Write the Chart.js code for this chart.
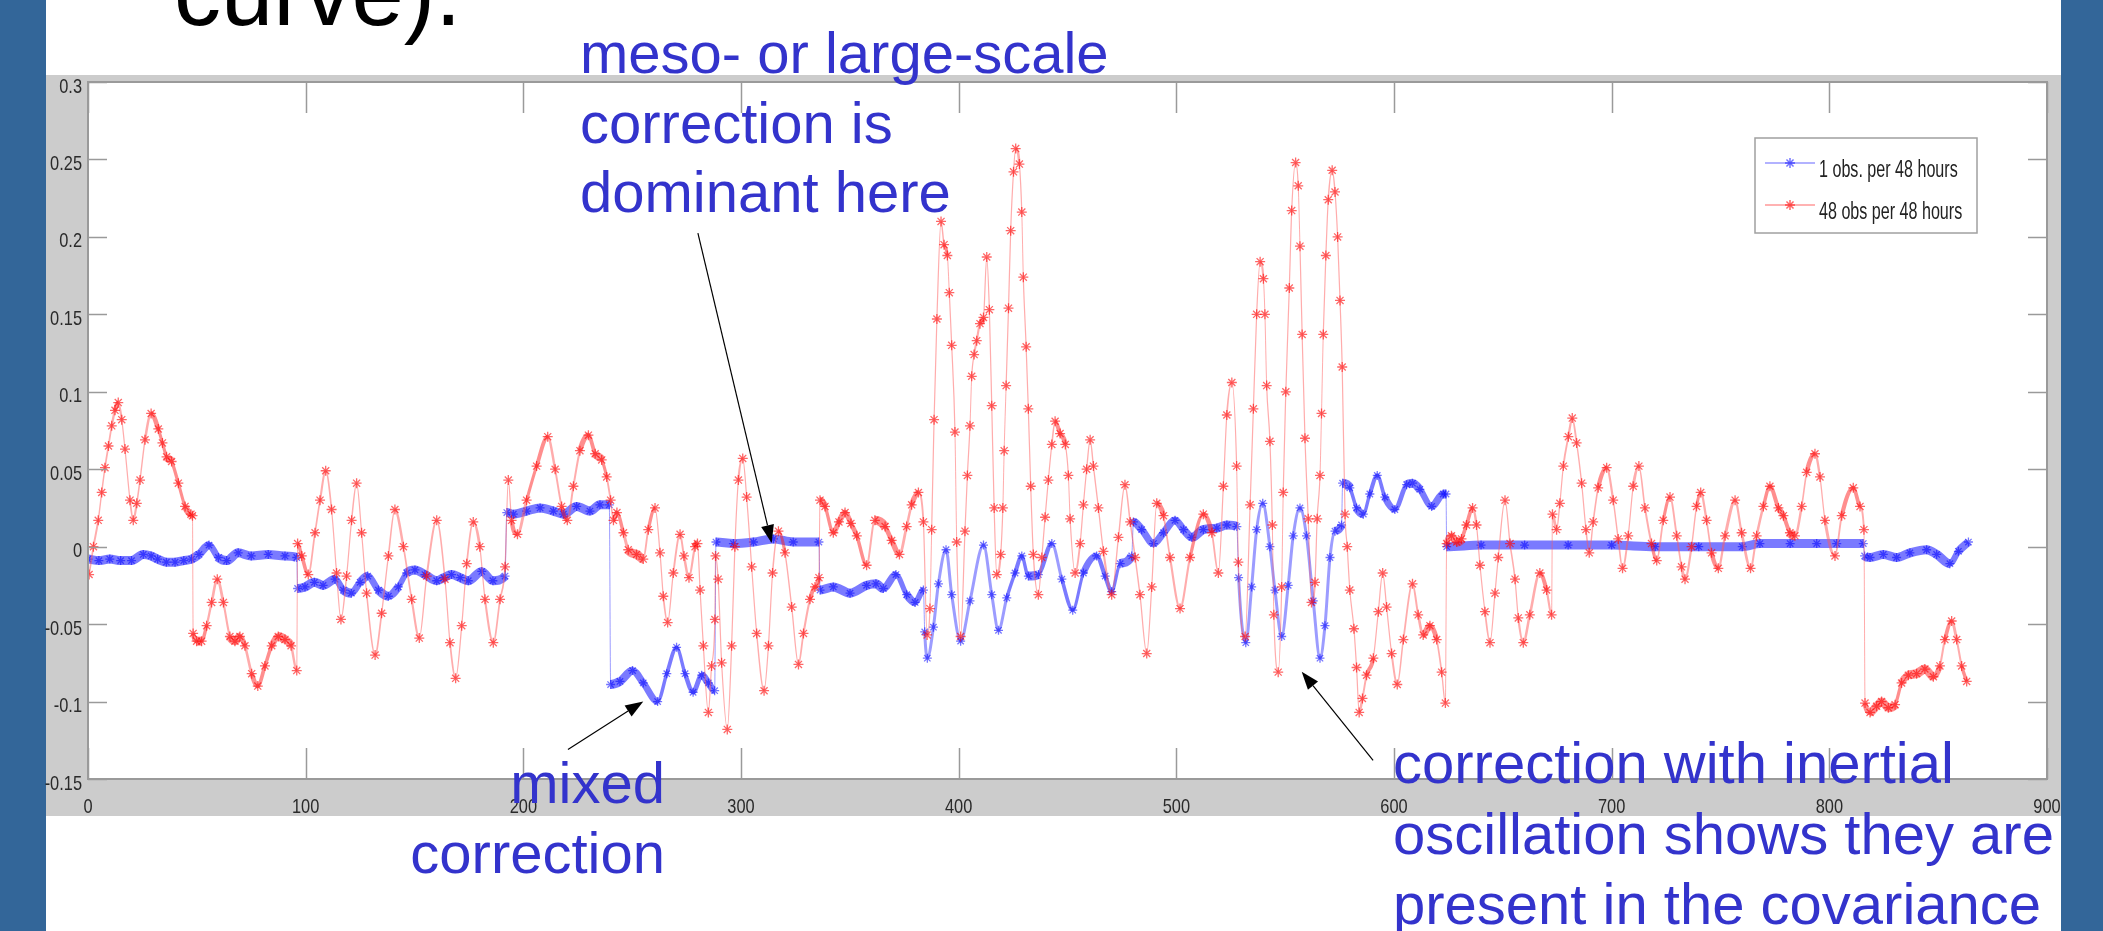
<!DOCTYPE html>
<html>
<head>
<meta charset="utf-8">
<script src="https://cdn.jsdelivr.net/npm/chart.js@4.4.1/dist/chart.umd.min.js"></script>
<style>
  html,body{margin:0;padding:0;background:#fff;overflow:hidden}
  canvas{display:block}
</style>
</head>
<body>
<canvas id="c" width="2103" height="931"></canvas>
<script>
// ---- data: [hour, correction] ----
const seriesLabels = ['1 obs. per 48 hours', '48 obs per 48 hours'];

const blueObs1 = [
  [0,-0.008],[5,-0.009],[10,-0.008],[15,-0.009],[20,-0.009],[25.4,-0.005],[29,-0.006],[32,-0.008],[36,-0.010],
  [40,-0.010],[44,-0.009],[47.6,-0.008],[51,-0.005],[55.6,0.001],[59.9,-0.007],[63.7,-0.009],[69,-0.004],
  [75,-0.006],[82.8,-0.005],[90.5,-0.006],[95.9,-0.007],
  [96.3,-0.027],[99.7,-0.026],[104,-0.023],[108,-0.025],[113.5,-0.021],[117.3,-0.028],[121,-0.030],[125,-0.023],
  [128.5,-0.019],[133.4,-0.028],[138,-0.032],[142.6,-0.026],[146.4,-0.017],[150.2,-0.015],[154.8,-0.018],
  [160.2,-0.022],[163.5,-0.020],[167,-0.018],[171,-0.020],[174.7,-0.022],[180.9,-0.016],[186,-0.022],[191.6,-0.019],
  [192.4,0.022],[195.4,0.021],[201.5,0.023],[207.7,0.025],[213.8,0.023],[218.4,0.021],[224.5,0.026],[230.6,0.023],
  [235.2,0.027],[239.5,0.027],
  [240.1,-0.089],[244.4,-0.087],[250.2,-0.080],[255.1,-0.088],[261.7,-0.100],[265.9,-0.082],[270.4,-0.065],
  [274.3,-0.082],[278,-0.094],[281.9,-0.083],[285,-0.088],[287.9,-0.093],
  [288.5,0.003],[296.5,0.002],[305.7,0.003],[314.9,0.005],[324,0.003],[335.8,0.003],
  [336.3,-0.028],[342.4,-0.026],[350.1,-0.030],[357.7,-0.025],[362,-0.024],[365.4,-0.027],[371.2,-0.018],
  [376.1,-0.031],[380,-0.036],[383.8,-0.028],
  [384.4,-0.055],[385.6,-0.072],[388.4,-0.052],[390.7,-0.024],[394.2,-0.002],[396.8,-0.031],[400.9,-0.061],
  [405.2,-0.035],[411.4,0.001],[415.2,-0.031],[418.3,-0.054],[422.1,-0.033],[425.9,-0.017],[429,-0.006],
  [432,-0.019],[436.6,-0.018],[442.8,0.002],[447.4,-0.021],[452.4,-0.041],[457.3,-0.017],[463.4,-0.006],
  [467.3,-0.019],[470.3,-0.029],[474.2,-0.011],[479.5,-0.006],
  [480.3,0.016],[484.1,0.011],[489.5,0.002],[494.1,0.009],[499.4,0.017],[503.3,0.011],[507.1,0.006],
  [512.4,0.011],[518.6,0.012],[523.2,0.014],[527.8,0.013],
  [528.6,-0.020],[531.9,-0.062],[534.6,-0.026],[536.9,0.011],[539.7,0.028],[543,0.000],[545.3,-0.028],
  [548.4,-0.058],[551.4,-0.025],[553.7,0.007],[556.8,0.025],[559.8,0.007],[562.9,-0.035],[566,-0.072],
  [568.3,-0.051],[570.6,-0.007],[572.9,0.010],[575.9,0.014],
  [576.4,0.041],[579.7,0.038],[582.8,0.025],[585.9,0.021],[588.9,0.034],[592.3,0.046],[595.8,0.032],
  [600.4,0.024],[605.8,0.040],[608.5,0.041],[611.9,0.037],[617.3,0.026],[622.6,0.034],[623.9,0.034],
  [624.2,0.000],[640,0.001],[660,0.001],[680,0.001],[700,0.001],[720,0.000],[740,0.000],[760,0.000],
  [768.1,0.002],[782,0.002],[794.2,0.002],[803.4,0.002],[815.6,0.002],
  [816.2,-0.006],[818.7,-0.007],[824.8,-0.005],[830.9,-0.007],[837,-0.004],[844.7,-0.002],[849.3,-0.005],
  [855.4,-0.011],[859.3,-0.003],[863.9,0.003]
];

const redObs48 = [
  [0.5,-0.018],[2.5,0.000],[4.7,0.017],[6.3,0.035],[7.8,0.051],[9.4,0.065],[10.9,0.078],[12.4,0.088],[13.9,0.093],
  [15.5,0.082],[17,0.063],[19.3,0.030],[20.8,0.017],[22.4,0.028],[23.9,0.043],[26.2,0.069],[29,0.086],[32.3,0.076],
  [34.2,0.067],[36.1,0.058],[38.4,0.055],[41.5,0.041],[44.6,0.026],[47.3,0.021],[48,0.020],
  [48.3,-0.056],[49.9,-0.061],[52.2,-0.061],[54.5,-0.051],[56.8,-0.036],[59.4,-0.021],[62.2,-0.036],[65.2,-0.058],
  [67.5,-0.061],[69.8,-0.058],[72.1,-0.064],[75.2,-0.082],[78,-0.090],[81.3,-0.077],[84.4,-0.064],[87.4,-0.058],
  [90.5,-0.060],[93.3,-0.064],[95.9,-0.080],
  [96.3,0.002],[98.2,-0.006],[101.2,-0.018],[104.3,0.009],[106.6,0.030],[109.2,0.049],[111.9,0.024],[114.2,-0.017],
  [116.2,-0.047],[118.8,-0.019],[121.1,0.017],[123.4,0.041],[125.7,0.009],[128,-0.030],[131.9,-0.070],[134.9,-0.043],
  [138,-0.006],[141,0.024],[144.9,0.000],[148.7,-0.034],[152.2,-0.059],[155.6,-0.019],[160.2,0.017],[164,-0.021],
  [166.3,-0.062],[168.9,-0.085],[171.7,-0.051],[174,-0.011],[177,0.016],[180,0.000],[182.4,-0.034],[186.2,-0.062],
  [189.3,-0.034],[191.6,-0.013],[193.1,0.043],[194.6,0.017],[197.3,0.008],[201.5,0.030],[206.1,0.052],[211.2,0.071],
  [214.6,0.050],[217.6,0.026],[220.2,0.017],[223,0.039],[226,0.062],[229.9,0.072],[233,0.060],[236,0.056],
  [238.3,0.045],[240.1,0.030],[241.4,0.017],[243,0.022],[246,0.009],[248.2,-0.002],[252,-0.005],[255.1,-0.008],
  [257.4,0.011],[260.5,0.025],[262.8,-0.004],[264.3,-0.032],[266.3,-0.049],[268.9,-0.017],[272,0.008],[273.8,-0.006],
  [276.1,-0.020],[278.9,0.000],[280,0.002],[281.2,-0.028],[282.7,-0.064],[285,-0.107],[286.5,-0.077],[288,-0.047],
  [288.3,-0.006],[289.5,-0.021],[291.1,-0.075],[293.7,-0.118],[295.7,-0.064],[297.2,0.000],[298.8,0.043],
  [300.8,0.057],[302.6,0.032],[304.9,-0.013],[307.2,-0.056],[310.6,-0.093],[312.6,-0.064],[314.5,-0.017],
  [317.2,0.010],[320.2,-0.004],[323.3,-0.039],[326.4,-0.076],[328.7,-0.056],[331.7,-0.034],[334,-0.026],[335.8,-0.020],
  [336.3,0.030],[338.6,0.026],[342.4,0.009],[345,0.016],[347.8,0.022],[350.5,0.015],[353.2,0.007],[357.7,-0.012],
  [361.5,0.017],[366.2,0.013],[369.2,0.004],[372.8,-0.005],[376.1,0.013],[378.4,0.027],[381.5,0.035],[383.8,0.016],
  [385.5,-0.057],[386.8,-0.040],[387.6,0.011],[388.7,0.082],[390,0.147],[391.9,0.210],[393.3,0.195],[394.8,0.188],
  [395.7,0.164],[396.8,0.130],[398.3,0.074],[399.1,0.003],[400.9,-0.058],[402.9,0.010],[404,0.046],[405.2,0.078],
  [406,0.110],[407.1,0.124],[408.3,0.133],[409.8,0.144],[411.4,0.148],[412.9,0.187],[414.1,0.153],[415.2,0.091],
  [416.3,0.025],[417.5,-0.018],[419.3,-0.005],[420.3,0.025],[420.9,0.062],[421.8,0.104],[422.9,0.154],[423.9,0.204],
  [425.2,0.242],[426.2,0.257],[427.9,0.247],[429,0.216],[429.7,0.174],[431,0.129],[432,0.089],[433.1,0.039],
  [434.3,-0.005],[436.6,-0.031],[438.2,-0.007],[439.7,0.019],[441.2,0.043],[442.8,0.066],[444.3,0.081],[446.6,0.073],
  [449,0.066],[450.4,0.046],[451.2,0.018],[453.5,-0.017],[455.8,0.002],[457.3,0.027],[458.8,0.050],[460.4,0.069],
  [461.9,0.052],[464.2,0.025],[466.5,-0.003],[470.3,-0.031],[473.4,0.006],[476.4,0.040],[478.8,0.016],[481.1,-0.007],
  [483.3,-0.031],[486.4,-0.069],[488.7,-0.026],[491,0.028],[494.1,0.020],[497.1,-0.007],[501.7,-0.040],[506.3,-0.007],
  [512.4,0.021],[516.3,0.009],[519.3,-0.017],[521.6,0.039],[523.2,0.085],[525.5,0.106],[527.7,0.052],[528.5,-0.010],
  [531.6,-0.058],[533.9,0.027],[535.4,0.089],[536.9,0.150],[538.5,0.184],[540,0.173],[540.7,0.150],[541.5,0.104],
  [543,0.068],[544.1,0.014],[544.8,-0.044],[546.8,-0.081],[548.4,-0.026],[549.1,0.035],[550.3,0.100],[551.9,0.167],
  [553,0.217],[554.8,0.248],[556,0.233],[556.8,0.194],[557.8,0.137],[559.1,0.070],[560.6,0.018],[562.1,-0.036],
  [563.7,-0.023],[564.7,0.018],[566,0.046],[566.7,0.086],[567.5,0.137],[568.7,0.188],[569.8,0.224],[571.6,0.243],
  [572.9,0.229],[574.1,0.200],[575.2,0.159],[576.2,0.116],[577.5,0.021],[578.5,0.000],[579.7,-0.028],[581.6,-0.053],
  [582.8,-0.078],[584,-0.107],[585.5,-0.098],[587.4,-0.083],[590.5,-0.072],[592.8,-0.042],[594.8,-0.017],
  [596.6,-0.039],[598.9,-0.069],[601.5,-0.089],[604.3,-0.060],[608.5,-0.024],[611.1,-0.044],[613.4,-0.057],
  [616.5,-0.051],[619.6,-0.060],[621.9,-0.081],[623.6,-0.101],
  [624.2,0.002],[626.4,0.007],[628.8,0.003],[631,0.005],[633.3,0.014],[636.1,0.025],[637.9,0.014],[639.5,-0.012],
  [641.8,-0.042],[644.1,-0.062],[646.4,-0.030],[647.9,-0.007],[651,0.030],[653.3,0.002],[655.6,-0.021],[657.1,-0.046],
  [659.4,-0.062],[662.4,-0.044],[667,-0.017],[670.1,-0.028],[672.4,-0.044],
  [672.8,0.021],[674.7,0.011],[676.2,0.028],[677.8,0.052],[680.1,0.071],[681.9,0.083],[683.9,0.067],[686.2,0.041],
  [688.2,0.011],[689.7,-0.004],[691.5,0.016],[693.8,0.038],[697.7,0.051],[700.7,0.030],[703,0.005],[705,-0.014],
  [707.6,0.007],[709.9,0.039],[712.5,0.052],[715.3,0.025],[718.3,0.002],[720.7,-0.009],[723.7,0.017],[726.8,0.032],
  [729.9,0.007],[732.1,-0.013],[733.7,-0.021],[736.7,0.000],[739,0.026],[740.9,0.035],[743.6,0.017],[745.9,-0.004],
  [749,-0.014],[752.1,0.007],[756.7,0.030],[759.7,0.009],[763.8,-0.014],[766.6,0.007],[769.7,0.026],[772.7,0.039],
  [776.6,0.025],[778.9,0.020],[781.9,0.009],[784.2,0.007],[787.3,0.026],[789.6,0.048],[793.4,0.060],[795.7,0.045],
  [798,0.017],[802.6,-0.006],[805.7,0.020],[811,0.038],[814.1,0.026],[815.9,0.011],
  [816.4,-0.101],[818.7,-0.107],[821.7,-0.103],[824,-0.100],[827.1,-0.104],[830.2,-0.102],[833.2,-0.088],
  [836.3,-0.083],[840.1,-0.082],[843.9,-0.079],[847.8,-0.084],[850.8,-0.077],[853.1,-0.060],[856.2,-0.048],
  [858.5,-0.060],[860.8,-0.077],[863.1,-0.087]
];

const toPts = arr => arr.map(p => ({ x:p[0], y:p[1] }));
const fmtTick = v => String(Math.round(v * 100) / 100);

const labelFont = "'Liberation Sans',Arial,sans-serif";
const noteBlue = '#3333cc';

// hourly markers overlap into a thick band where the curve is slow
function bandWidth(minW){
  return ctx => {
    const du = ctx.p1.parsed.x - ctx.p0.parsed.x;
    if (du < 1) return 1;
    const len = Math.hypot(ctx.p1.x - ctx.p0.x, ctx.p1.y - ctx.p0.y);
    return Math.max(minW, Math.min(9, 24 / (len / du)));
  };
}
function bandColor(minW, thick, thin){
  const w = bandWidth(minW);
  return ctx => w(ctx) > 1 && (ctx.p1.parsed.x - ctx.p0.parsed.x) >= 1 && w(ctx) > Math.max(3, minW - 0.1) ? thick : thin;
}

// the matlab figure was stretched vertically, so its text is narrow
function narrowText(c, txt, x, y, align, sx){
  c.save();
  c.translate(x, y);
  c.scale(sx, 1);
  c.textAlign = align;
  c.fillText(txt, 0, 0);
  c.restore();
}

const frame = {
  id:'frame',
  beforeDraw(chart){
    const c = chart.ctx, a = chart.chartArea;
    c.save();
    c.fillStyle = '#ffffff';
    c.fillRect(0, 0, chart.width, chart.height);
    c.fillStyle = '#cccccc';
    c.fillRect(46, 75, 2015, 741);
    c.fillStyle = '#ffffff';
    c.fillRect(a.left, a.top, a.right - a.left, a.bottom - a.top);
    c.fillStyle = '#336699';
    c.fillRect(0, 0, 46, chart.height);
    c.fillRect(2061, 0, chart.width - 2061, chart.height);
    c.restore();
  },
  afterDraw(chart){
    const c = chart.ctx, a = chart.chartArea;
    const xs = chart.scales.x, ys = chart.scales.y;
    c.save();

    // axes box + inward ticks on all four sides
    c.strokeStyle = '#9a9a9a';
    c.lineWidth = 2;
    c.strokeRect(a.left, a.top, a.right - a.left, a.bottom - a.top);
    c.lineWidth = 1.5;
    c.beginPath();
    xs.ticks.forEach(t => {
      const px = Math.round(xs.getPixelForValue(t.value)) + 0.5;
      c.moveTo(px, a.bottom); c.lineTo(px, a.bottom - 31);
      c.moveTo(px, a.top); c.lineTo(px, a.top + 31);
    });
    ys.ticks.forEach(t => {
      const py = Math.round(ys.getPixelForValue(t.value)) + 0.5;
      c.moveTo(a.left, py); c.lineTo(a.left + 19, py);
      c.moveTo(a.right, py); c.lineTo(a.right - 19, py);
    });
    c.stroke();

    // tick labels
    c.fillStyle = '#2a2a2a';
    c.font = '21px ' + labelFont;
    c.textBaseline = 'alphabetic';
    xs.ticks.forEach(t => {
      narrowText(c, fmtTick(t.value), xs.getPixelForValue(t.value), a.bottom + 34, 'center', 0.78);
    });
    ys.ticks.forEach(t => {
      narrowText(c, fmtTick(t.value), a.left - 6, ys.getPixelForValue(t.value) + 10.5, 'right', 0.78);
    });

    // legend box
    const lx = a.right - 292, ly = a.top + 56, lw = 222, lh = 95;
    c.fillStyle = '#fff';
    c.fillRect(lx, ly, lw, lh);
    c.strokeStyle = '#a0a0a0';
    c.lineWidth = 1.5;
    c.strokeRect(lx, ly, lw, lh);
    chart.data.datasets.forEach((ds, i) => {
      const yy = ly + 25 + i * 42;
      c.strokeStyle = ds.legendLine;
      c.lineWidth = 1.5;
      c.beginPath(); c.moveTo(lx + 10, yy); c.lineTo(lx + 60, yy); c.stroke();
      c.strokeStyle = ds.pointBorderColor;
      Chart.helpers.drawPoint(c, { pointStyle:'star', radius:5, borderWidth:1.3 }, lx + 35, yy);
      c.fillStyle = '#222';
      c.font = '23px ' + labelFont;
      narrowText(c, ds.label, lx + 64, yy + 14, 'left', 0.7);
    });

    // arrows (tail / tip in data units)
    const arrows = [
      { from:[280.2, 0.2025], to:[314.1, 0.0024] },
      { from:[220.5, -0.131], to:[255.1, -0.0999] },
      { from:[590.4, -0.138], to:[557.6, -0.0807] }
    ];
    c.strokeStyle = '#000'; c.fillStyle = '#000'; c.lineWidth = 1.2;
    arrows.forEach(ar => {
      const x0 = xs.getPixelForValue(ar.from[0]), y0 = ys.getPixelForValue(ar.from[1]);
      const x1 = xs.getPixelForValue(ar.to[0]), y1 = ys.getPixelForValue(ar.to[1]);
      const ang = Math.atan2(y1 - y0, x1 - x0), hl = 18, hw = 6.5;
      const bx = x1 - hl * Math.cos(ang), by = y1 - hl * Math.sin(ang);
      c.beginPath(); c.moveTo(x0, y0); c.lineTo(bx, by); c.stroke();
      c.beginPath();
      c.moveTo(x1, y1);
      c.lineTo(bx + hw * Math.sin(ang), by - hw * Math.cos(ang));
      c.lineTo(bx - hw * Math.sin(ang), by + hw * Math.cos(ang));
      c.closePath(); c.fill();
    });

    // slide text
    c.textBaseline = 'alphabetic';
    c.fillStyle = '#000';
    c.font = '94px ' + labelFont;
    c.textAlign = 'left';
    c.fillText('curve).', 174, 25);

    c.fillStyle = noteBlue;
    c.font = '58px ' + labelFont;
    c.fillText('meso- or large-scale', 580, 73);
    c.fillText('correction is', 580, 143);
    c.fillText('dominant here', 580, 212);
    c.fillText('correction with inertial', 1393, 783);
    c.fillText('oscillation shows they are', 1393, 854);
    c.fillText('present in the covariance', 1393, 924);
    c.textAlign = 'right';
    c.fillText('mixed', 665, 803);
    c.fillText('correction', 665, 873);
    c.restore();
  }
};

new Chart(document.getElementById('c'), {
  type:'line',
  data:{
    datasets:[
      {
        label: seriesLabels[0],
        data: toPts(blueObs1),
        borderColor:'rgba(30,30,255,0.6)',
        borderWidth:3,
        pointStyle:'star',
        pointRadius:4.5,
        pointBorderWidth:1.3,
        pointBorderColor:'rgba(0,0,255,0.55)',
        pointBackgroundColor:'rgba(0,0,255,0.55)',
        legendLine:'rgba(110,110,255,0.7)',
        cubicInterpolationMode:'monotone',
        segment:{
          borderWidth: bandWidth(3),
          borderColor: bandColor(3, 'rgba(40,40,255,0.62)', 'rgba(90,90,255,0.6)')
        },
        order:2
      },
      {
        label: seriesLabels[1],
        data: toPts(redObs48),
        borderColor:'rgba(255,60,60,0.5)',
        borderWidth:1.2,
        pointStyle:'star',
        pointRadius:5,
        pointBorderWidth:1.3,
        pointBorderColor:'rgba(255,0,0,0.6)',
        pointBackgroundColor:'rgba(255,0,0,0.6)',
        legendLine:'rgba(255,110,110,0.7)',
        cubicInterpolationMode:'monotone',
        segment:{
          borderWidth: bandWidth(1.2),
          borderColor: bandColor(1.2, 'rgba(255,30,30,0.5)', 'rgba(255,90,90,0.5)')
        },
        order:1
      }
    ]
  },
  options:{
    responsive:false,
    devicePixelRatio:1,
    animation:false,
    layout:{ padding:{ left:46, right:56, top:82, bottom:115 } },
    plugins:{ legend:{ display:false }, tooltip:{ enabled:false } },
    scales:{
      x:{
        type:'linear', min:0, max:900,
        afterFit(s){ s.height = 37; },
        grid:{ display:false },
        border:{ display:false },
        ticks:{ stepSize:100, display:false }
      },
      y:{
        type:'linear', min:-0.15, max:0.3,
        afterFit(s){ s.width = 42; },
        grid:{ display:false },
        border:{ display:false },
        ticks:{ stepSize:0.05, display:false }
      }
    }
  },
  plugins:[frame]
});
</script>
</body>
</html>
